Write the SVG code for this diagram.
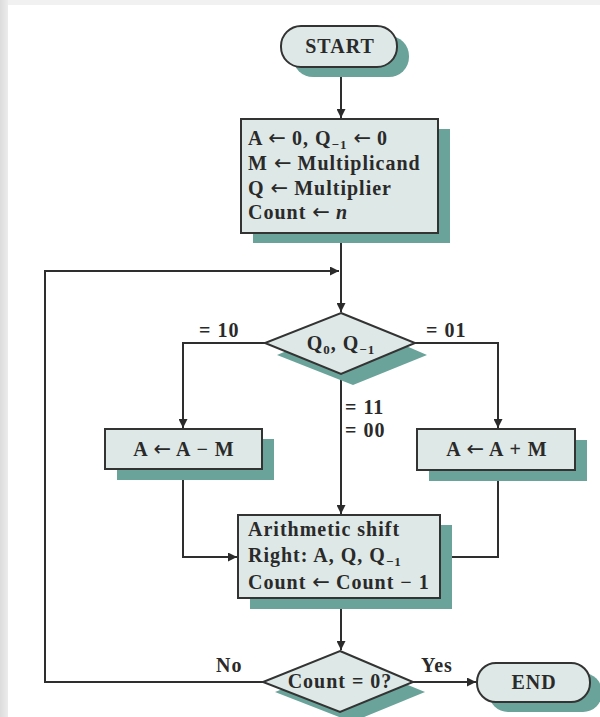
<svg xmlns="http://www.w3.org/2000/svg" width="600" height="717" viewBox="0 0 600 717">
<defs>
<marker id="arr" viewBox="0 0 10 10" refX="10" refY="5" markerWidth="9" markerHeight="9" markerUnits="userSpaceOnUse" orient="auto">
<path d="M0,0 L10,5 L0,10 z" fill="#2b2b2b"/>
</marker>
<linearGradient id="lg" x1="0" x2="1" y1="0" y2="0">
<stop offset="0" stop-color="#dcdcdc"/><stop offset="1" stop-color="#ececec"/>
</linearGradient>
</defs>
<style>
.bg{fill:#ffffff}
.sh{fill:#6aa39a}
.bx{fill:#dde8e7;stroke:#333;stroke-width:2}
.t{font-family:"Liberation Serif","Times New Roman",serif;font-weight:bold;font-size:20px;letter-spacing:1px;fill:#2a2a2a}
.c{text-anchor:middle}
.ar{font-family:"DejaVu Sans",sans-serif;font-weight:normal;font-size:21px;letter-spacing:0}
.ln{fill:none;stroke:#2e2e2e;stroke-width:2}
</style>
<rect class="bg" x="0" y="0" width="600" height="717"/>
<rect x="0" y="0" width="600" height="5" fill="#f1f1f1"/>
<rect x="0" y="0" width="8" height="717" fill="url(#lg)"/>

<g id="connectors">
<path class="ln" d="M341,67 V118" marker-end="url(#arr)"/>
<path class="ln" d="M341,233 V312" marker-end="url(#arr)"/>
<path class="ln" d="M263,682 H45 V271 H339" marker-end="url(#arr)"/>
<path class="ln" d="M265,343 H183 V428" marker-end="url(#arr)"/>
<path class="ln" d="M415,343 H498 V428" marker-end="url(#arr)"/>
<path class="ln" d="M341,374 V514" marker-end="url(#arr)"/>
<path class="ln" d="M183,469 V557 H237" marker-end="url(#arr)"/>
<path class="ln" d="M498,470 V557 H441" marker-end="url(#arr)"/>
<path class="ln" d="M341,598 V650" marker-end="url(#arr)"/>
<path class="ln" d="M413,682 H476" marker-end="url(#arr)"/>
<text class="t" x="199" y="337">= 10</text>
<text class="t" x="426" y="337">= 01</text>
<text class="t" x="345" y="414">= 11</text>
<text class="t" x="345" y="437">= 00</text>
<text class="t" x="216" y="672">No</text>
<text class="t" x="421" y="672">Yes</text>
</g>

<g id="start">
<rect class="sh" x="293" y="36" width="116" height="41" rx="20"/>
<rect class="bx" x="281" y="26" width="116" height="41" rx="20"/>
<text class="t c" x="340" y="53">START</text>
</g>

<g id="init">
<rect class="sh" x="253" y="129" width="197" height="114"/>
<rect class="bx" x="241" y="119" width="197" height="114"/>
<text class="t" x="248" y="145">A <tspan class="ar">←</tspan> 0, Q<tspan font-size="13" dy="4">−1</tspan><tspan dy="-4"> </tspan><tspan class="ar">←</tspan> 0</text>
<text class="t" x="248" y="170">M <tspan class="ar">←</tspan> Multiplicand</text>
<text class="t" x="248" y="195">Q <tspan class="ar">←</tspan> Multiplier</text>
<text class="t" x="248" y="219">Count <tspan class="ar">←</tspan> <tspan font-style="italic">n</tspan></text>
</g>

<g id="test-q">
<polygon class="sh" points="353,323 427,355 353,385 277,355"/>
<polygon class="bx" points="341,313 415,343 341,374 265,343"/>
<text class="t c" x="341" y="350">Q<tspan font-size="13" dy="4">0</tspan><tspan dy="-4">, Q</tspan><tspan font-size="13" dy="4">−1</tspan></text>
</g>

<g id="sub">
<rect class="sh" x="117" y="439" width="157" height="41"/>
<rect class="bx" x="105" y="429" width="157" height="40"/>
<text class="t c" x="184" y="456">A <tspan class="ar">←</tspan> A − M</text>
</g>

<g id="add">
<rect class="sh" x="429" y="440" width="158" height="41"/>
<rect class="bx" x="417" y="429" width="158" height="41"/>
<text class="t c" x="497" y="456">A <tspan class="ar">←</tspan> A + M</text>
</g>

<g id="shift">
<rect class="sh" x="250" y="525" width="202" height="84"/>
<rect class="bx" x="238" y="515" width="202" height="83"/>
<text class="t" x="248" y="536">Arithmetic shift</text>
<text class="t" x="248" y="562">Right: A, Q, Q<tspan font-size="13" dy="4">−1</tspan></text>
<text class="t" x="248" y="589">Count <tspan class="ar">←</tspan> Count − 1</text>
</g>

<g id="test-count">
<polygon class="sh" points="352,662 425,692 352,722 275,692"/>
<polygon class="bx" points="340,651 413,682 340,712 263,682"/>
<text class="t c" x="340" y="688">Count = 0?</text>
</g>

<g id="end">
<rect class="sh" x="489" y="673" width="113" height="39" rx="19"/>
<rect class="bx" x="477" y="663" width="113" height="39" rx="19"/>
<text class="t c" x="534" y="689">END</text>
</g>
</svg>
